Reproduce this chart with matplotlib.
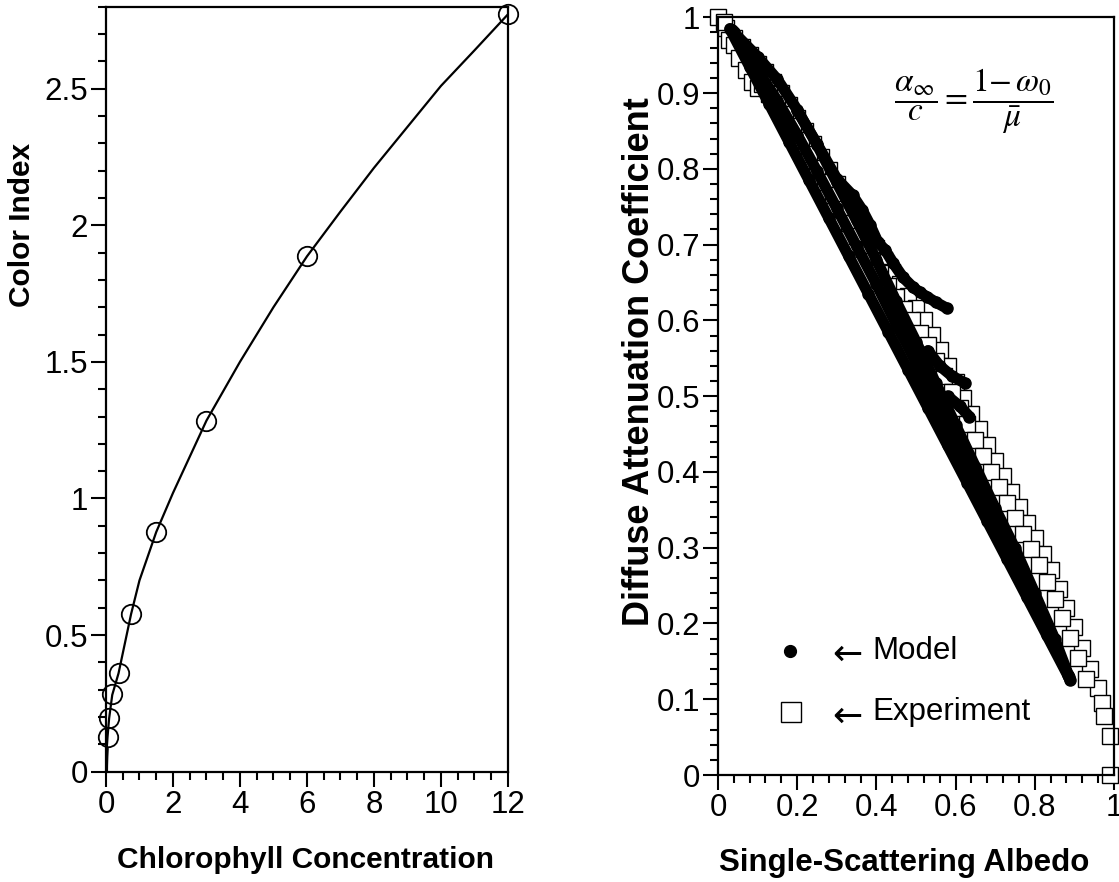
import numpy as np
import matplotlib
matplotlib.use("Agg")
import matplotlib.pyplot as plt
from matplotlib.ticker import MultipleLocator, FuncFormatter

plt.rcParams['font.family'] = ['Liberation Sans', 'DejaVu Sans']
plt.rcParams['mathtext.fontset'] = 'stix'

# ---- left panel: color index vs chlorophyll
chl_line = [0, 0.002, 0.01, 0.02, 0.047, 0.094, 0.1875, 0.375, 0.75, 1, 1.5, 2, 3, 4, 5, 6, 7, 8, 9, 10, 11, 12]
ci_line = [0, 0.022, 0.054, 0.079, 0.128, 0.195, 0.281, 0.36, 0.577, 0.70, 0.877, 1.02, 1.285, 1.50, 1.70, 1.886, 2.05, 2.21, 2.36, 2.51, 2.64, 2.772]
chl_pts = [0.047, 0.094, 0.1875, 0.375, 0.75, 1.5, 3, 6, 12]
ci_pts = [0.128, 0.195, 0.283, 0.36, 0.576, 0.876, 1.285, 1.887, 2.772]

# ---- right panel: model bands (albedo, attenuation)
m1_x = [0.03, 0.08, 0.13, 0.18, 0.23, 0.28, 0.33, 0.38, 0.43, 0.48, 0.53, 0.58, 0.63, 0.68, 0.73, 0.78, 0.83, 0.889]
m1_y = [0.985, 0.935, 0.885, 0.835, 0.785, 0.735, 0.685, 0.635, 0.585, 0.535, 0.485, 0.435, 0.385, 0.335, 0.285, 0.235, 0.185, 0.126]
m2_x = [0.04, 0.1, 0.15, 0.2, 0.25, 0.3, 0.35, 0.4, 0.45, 0.5, 0.55, 0.6, 0.65, 0.7, 0.75, 0.8, 0.85, 0.885]
m2_y = [0.98, 0.948, 0.918, 0.878, 0.832, 0.782, 0.732, 0.68, 0.625, 0.572, 0.517, 0.462, 0.407, 0.352, 0.299, 0.24, 0.18, 0.132]
m3_x = [0.035, 0.1, 0.15, 0.2, 0.25, 0.3, 0.35, 0.4, 0.45, 0.5, 0.55, 0.6, 0.65, 0.7, 0.75, 0.8, 0.85, 0.887]
m3_y = [0.983, 0.93, 0.89, 0.845, 0.797, 0.748, 0.698, 0.648, 0.595, 0.545, 0.491, 0.439, 0.386, 0.333, 0.282, 0.228, 0.172, 0.129]
b1_x = [0.2, 0.25, 0.3, 0.34, 0.364, 0.384, 0.404, 0.422, 0.442, 0.467, 0.492, 0.51, 0.528, 0.55, 0.578]
b1_y = [0.877, 0.833, 0.787, 0.765, 0.746, 0.726, 0.703, 0.693, 0.676, 0.657, 0.644, 0.637, 0.631, 0.624, 0.616]
b2_x = [0.53, 0.56, 0.59, 0.624]
b2_y = [0.56, 0.54, 0.527, 0.517]
b3_x = [0.58, 0.61, 0.635]
b3_y = [0.5, 0.487, 0.473]

# ---- right panel: experiment
e1_x = [0.0, 0.02, 0.04, 0.06, 0.08, 0.10, 0.12, 0.14, 0.16, 0.18, 0.20, 0.22, 0.24, 0.26, 0.28, 0.30,
        0.32, 0.34, 0.36, 0.38, 0.40, 0.42, 0.44, 0.46, 0.48, 0.50, 0.52, 0.54, 0.56, 0.58, 0.60, 0.62,
        0.64, 0.66, 0.68, 0.70, 0.72, 0.74, 0.76, 0.78, 0.80, 0.82, 0.84, 0.86, 0.88, 0.90, 0.92, 0.94,
        0.96, 0.97, 0.975, 0.99, 0.99]
e1_y = [1.0, 0.986, 0.973, 0.961, 0.950, 0.939, 0.928, 0.915, 0.900, 0.884, 0.867, 0.850, 0.833, 0.815, 0.798, 0.780,
        0.763, 0.745, 0.728, 0.712, 0.696, 0.680, 0.664, 0.648, 0.632, 0.616, 0.600, 0.581, 0.561, 0.540, 0.519, 0.498,
        0.477, 0.456, 0.435, 0.415, 0.395, 0.374, 0.354, 0.333, 0.313, 0.292, 0.270, 0.246, 0.220, 0.195, 0.168, 0.140,
        0.115, 0.095, 0.078, 0.051, 0.0]
e2_x = [0.11, 0.13, 0.15, 0.17, 0.19, 0.21, 0.23, 0.25, 0.27, 0.29, 0.31, 0.33, 0.35, 0.37, 0.39, 0.41,
        0.43, 0.45, 0.47, 0.49, 0.51, 0.53, 0.55, 0.57, 0.59, 0.61, 0.63, 0.65, 0.67, 0.69, 0.71, 0.73,
        0.75, 0.77, 0.79, 0.81, 0.83, 0.85, 0.87, 0.89, 0.91, 0.93]
e2_y = [0.912, 0.899, 0.886, 0.872, 0.856, 0.838, 0.820, 0.801, 0.783, 0.765, 0.747, 0.729, 0.711, 0.694, 0.678, 0.662,
        0.646, 0.631, 0.615, 0.600, 0.584, 0.567, 0.547, 0.526, 0.505, 0.484, 0.463, 0.442, 0.421, 0.400, 0.380, 0.359,
        0.339, 0.318, 0.298, 0.277, 0.255, 0.232, 0.207, 0.181, 0.154, 0.127]
e3_x = [0.015, 0.028, 0.04, 0.053, 0.07, 0.085, 0.1]
e3_y = [0.994, 0.97, 0.963, 0.946, 0.931, 0.915, 0.907]

FS = 22.5

fig = plt.figure(figsize=(11.19, 8.82), dpi=100)


def style_axis(ax):
    for s in ax.spines.values():
        s.set_linewidth(1.6)
    ax.tick_params(which='both', direction='out', top=False, right=False, width=1.5, labelsize=FS)
    ax.tick_params(which='major', length=11, pad=2)
    ax.tick_params(which='minor', length=5.5)
    fmt = FuncFormatter(lambda v, p: '%g' % round(v, 6))
    ax.xaxis.set_major_formatter(fmt)
    ax.yaxis.set_major_formatter(fmt)


def place_labels(ax, xpos, ypos):
    ax.xaxis.set_label_coords(*xpos)
    ax.yaxis.set_label_coords(*ypos)
    ax.xaxis.label.set_va('center')
    ax.yaxis.label.set_va('center')


# left
ax1 = fig.add_axes([0.0947, 0.1251, 0.3592, 0.8673])
ax1.plot(chl_line, ci_line, color='black', lw=1.6)
ax1.plot(chl_line[:4], ci_line[:4], color='black', lw=3)
ax1.plot(chl_pts, ci_pts, 'o', ms=14, mfc='none', mec='black', mew=1.3, clip_on=False)
ax1.set_xlim(0, 12)
ax1.set_ylim(0, 2.8)
ax1.xaxis.set_major_locator(MultipleLocator(2))
ax1.xaxis.set_minor_locator(MultipleLocator(0.5))
ax1.yaxis.set_major_locator(MultipleLocator(0.5))
ax1.yaxis.set_minor_locator(MultipleLocator(0.1))
style_axis(ax1)
ax1.set_xlabel('Chlorophyll Concentration', fontsize=21.5, fontweight='bold')
ax1.set_ylabel('Color Index', fontsize=21.5, fontweight='bold')
place_labels(ax1, (0.4975, -0.116), (-0.209, 0.715))

# right
ax2 = fig.add_axes([0.6416, 0.1213, 0.3539, 0.8591])
sq = dict(marker='s', ms=11, mfc='white', mec='black', mew=1.0, ls='none', clip_on=False)
ax2.plot(e1_x, e1_y, **sq)
ax2.plot(e3_x, e3_y, **sq)
ax2.plot(e2_x, e2_y, **sq)
dot = dict(color='black', marker='o', ms=8, lw=8, solid_capstyle='round', solid_joinstyle='round')
for mx, my in [(m1_x, m1_y), (m3_x, m3_y), (m2_x, m2_y), (b1_x, b1_y), (b2_x, b2_y), (b3_x, b3_y)]:
    ax2.plot(mx, my, **dot)
ax2.set_xlim(0, 1)
ax2.set_ylim(0, 1)
ax2.xaxis.set_major_locator(MultipleLocator(0.2))
ax2.xaxis.set_minor_locator(MultipleLocator(0.04))
ax2.yaxis.set_major_locator(MultipleLocator(0.1))
ax2.yaxis.set_minor_locator(MultipleLocator(0.02))
style_axis(ax2)
ax2.set_xlabel('Single-Scattering Albedo', fontsize=FS, fontweight='bold')
ax2.set_ylabel('Diffuse Attenuation Coefficient', fontsize=26, fontweight='bold')
place_labels(ax2, (0.47, -0.116), (-0.197, 0.545))

# legend drawn by hand
ax2.plot([0.182], [0.164], 'o', color='black', ms=8.5)
ax2.plot([0.184], [0.083], 's', ms=14, mfc='white', mec='black', mew=1.0)
ax2.text(0.288, 0.158, '\u2190', fontsize=26, va='center', ha='left', family='DejaVu Sans')
ax2.text(0.288, 0.077, '\u2190', fontsize=26, va='center', ha='left', family='DejaVu Sans')
ax2.text(0.389, 0.164, 'Model', fontsize=FS, va='center', ha='left')
ax2.text(0.389, 0.083, 'Experiment', fontsize=FS, va='center', ha='left')

ax2.text(0.646, 0.889, r'$\dfrac{\alpha_{\infty}}{c}=\dfrac{1{-}\,\omega_{0}}{\bar{\mu}}$',
         fontsize=24, ha='center', va='center')

fig.savefig('out.png', dpi=100)
